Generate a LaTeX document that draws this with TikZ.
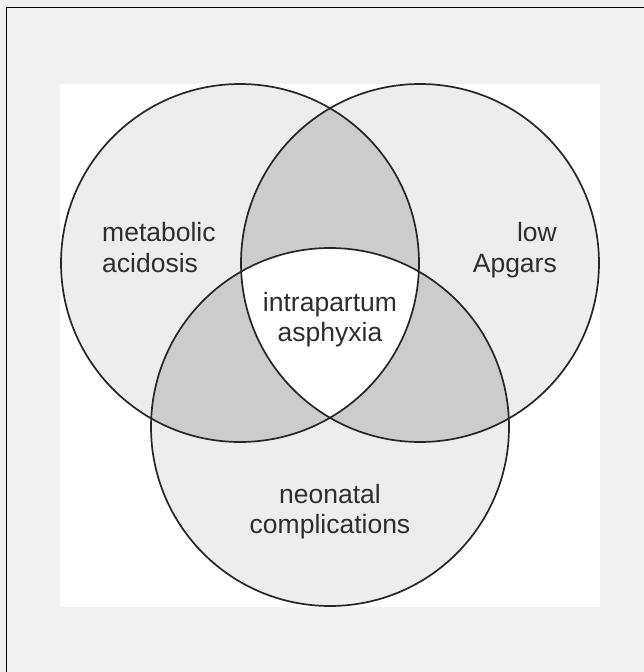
\documentclass[tikz,border=0pt]{standalone}
\usepackage{fontspec}
\setmainfont{Liberation Sans}
\begin{document}
\begin{tikzpicture}[x=1pt,y=-1pt,
  setlabel/.style={inner sep=0pt, text=black!82,
    font=\fontsize{26.5}{30.5}\selectfont},
  ring/.style={draw=black!85, line width=1.7pt}]
\definecolor{pagegray}{HTML}{F0F0F0}
\definecolor{onefill}{HTML}{EDEDED}
\definecolor{twofill}{HTML}{CCCCCC}
\useasboundingbox (0,0) rectangle (644,672);
% page and frame
\fill[pagegray] (0,0) rectangle (644,672);
\draw[black, line width=1pt] (6.5,672) -- (6.5,7.5) -- (644,7.5);
\fill[white] (60,84) rectangle (600,606.5);
% circle centres
\coordinate (A) at (240,263);
\coordinate (B) at (420,263);
\coordinate (C) at (330,427);
\def\rad{179}
% single regions
\fill[onefill] (A) circle[radius=\rad];
\fill[onefill] (B) circle[radius=\rad];
\fill[onefill] (C) circle[radius=\rad];
% pairwise overlaps
\begin{scope}
  \clip (A) circle[radius=\rad];
  \fill[twofill] (B) circle[radius=\rad];
  \fill[twofill] (C) circle[radius=\rad];
\end{scope}
\begin{scope}
  \clip (B) circle[radius=\rad];
  \fill[twofill] (C) circle[radius=\rad];
\end{scope}
% triple overlap
\begin{scope}
  \clip (A) circle[radius=\rad];
  \clip (B) circle[radius=\rad];
  \fill[white] (C) circle[radius=\rad];
\end{scope}
% outlines
\draw[ring] (A) circle[radius=\rad];
\draw[ring] (B) circle[radius=\rad];
\draw[ring] (C) circle[radius=\rad];
% labels (base anchor sits on the last line)
\node[setlabel, anchor=base west, align=left] (ma) at (102,272) {metabolic\\acidosis};
\node[setlabel, anchor=base east, align=right] (la) at (557,272) {low\\Apgars};
\node[setlabel, anchor=base, align=center] (ia) at (330,341.5) {intrapartum\\asphyxia};
\node[setlabel, anchor=base, align=center] (nc) at (330,533.5) {neonatal\\complications};
\end{tikzpicture}
\end{document}
